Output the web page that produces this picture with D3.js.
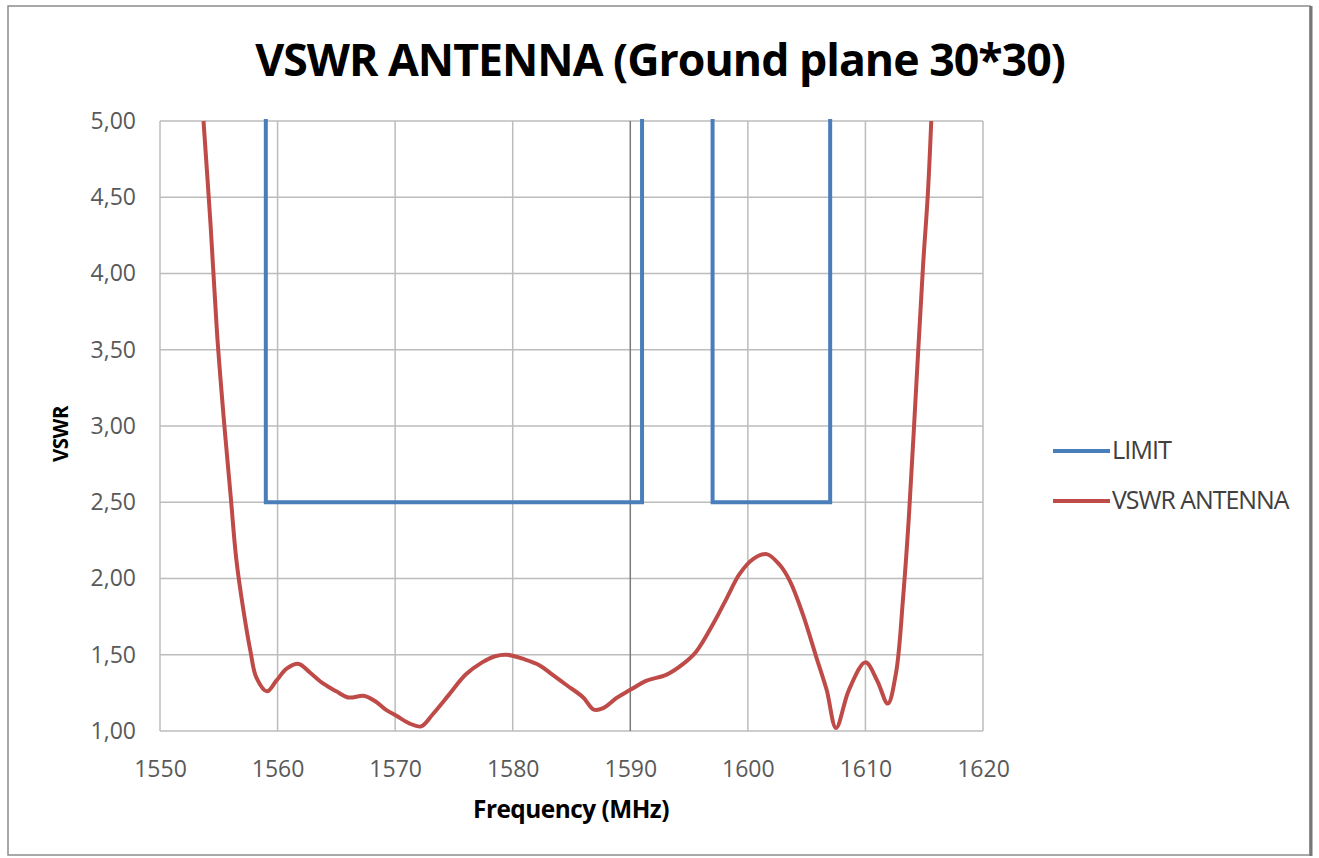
<!DOCTYPE html>
<html><head><meta charset="utf-8">
<script src="https://cdn.jsdelivr.net/npm/d3@7"></script>
<style>body{margin:0;background:#fff;} svg{display:block;}</style>
</head><body>
<svg id="c" width="1319" height="858"></svg>
<script>
const xTicks = [1550,1560,1570,1580,1590,1600,1610,1620];
const yTicks = [1.0,1.5,2.0,2.5,3.0,3.5,4.0,4.5,5.0];
const limitFreq = [1559,1559,1591,1591,1597,1597,1607,1607];
const limitVal  = [9,2.5,2.5,9,9,2.5,2.5,9];
const vswrFreq = [1553.7,1554.3,1554.85,1555.4,1556.0,1556.5,1557.1,1557.7,1558.2,1559.1,1559.9,1560.8,1561.8,1562.8,1563.9,1565.0,1566.0,1567.4,1568.4,1569.2,1570.1,1571.2,1572.2,1573.2,1574.6,1576.0,1577.4,1578.5,1579.5,1581.0,1582.3,1583.2,1584.6,1586.0,1586.9,1587.7,1588.9,1590.0,1591.4,1593.1,1594.5,1595.6,1597.1,1598.2,1599.3,1600.5,1601.6,1602.7,1603.6,1604.7,1605.8,1606.7,1607.5,1608.6,1610.0,1611.0,1611.9,1612.6,1613.2,1613.7,1614.3,1614.9,1615.3,1615.6];
const vswrVal  = [5.0,4.32,3.61,3.07,2.55,2.12,1.79,1.52,1.35,1.26,1.33,1.41,1.44,1.38,1.31,1.26,1.22,1.23,1.19,1.14,1.10,1.05,1.03,1.11,1.24,1.37,1.45,1.49,1.50,1.47,1.43,1.38,1.30,1.22,1.14,1.15,1.22,1.27,1.33,1.37,1.44,1.52,1.71,1.87,2.03,2.13,2.16,2.09,1.98,1.76,1.49,1.27,1.02,1.27,1.45,1.33,1.18,1.38,1.87,2.41,3.23,4.05,4.51,5.0];
const seriesNames = ["LIMIT","VSWR ANTENNA"];
const seriesColors = ["#4a7ebb","#be4b48"];

const svg = d3.select("#c");
const m = {l:160, r:983, t:121, b:731};
const x = d3.scaleLinear().domain([1550,1620]).range([m.l,m.r]);
const y = d3.scaleLinear().domain([1,5]).range([m.b,m.t]);
const font = "'Open Sans', sans-serif";

function fit(sel, w){
  sel.each(function(){
    const cur = this.getComputedTextLength();
    const fs = parseFloat(d3.select(this).attr("font-size"));
    d3.select(this).attr("font-size", fs*w/cur);
  });
}

// outer frame
svg.append("rect").attr("x",8).attr("y",6).attr("width",1302).attr("height",849)
  .attr("fill","#fff").attr("stroke","#8c8c8c").attr("stroke-width",1.5);
svg.append("line").attr("x1",1311).attr("x2",1311).attr("y1",6).attr("y2",856).attr("stroke","#777").attr("stroke-width",3);

// grid
const g = svg.append("g");
g.selectAll(".hg").data(yTicks).join("line")
  .attr("x1",m.l).attr("x2",m.r).attr("y1",d=>y(d)).attr("y2",d=>y(d))
  .attr("stroke","#bcbcbc").attr("stroke-width",1.5);
g.selectAll(".vg").data(xTicks).join("line")
  .attr("y1",m.t).attr("y2",m.b).attr("x1",d=>x(d)).attr("x2",d=>x(d))
  .attr("stroke",d=>d===1590?"#7a7a7a":"#bcbcbc").attr("stroke-width",1.5);

// axes labels via d3 axes
const xa = svg.append("g").attr("transform",`translate(0,${m.b})`)
  .call(d3.axisBottom(x).tickValues(xTicks).tickSize(0).tickPadding(30).tickFormat(d3.format("d")));
xa.select(".domain").remove();
xa.selectAll("text").attr("font-family",font).attr("font-size",23).attr("fill","#595959");
const ya = svg.append("g").attr("transform",`translate(${m.l},0)`)
  .call(d3.axisLeft(y).tickValues(yTicks).tickSize(0).tickPadding(24).tickFormat(d=>d3.format(".2f")(d).replace(".",",")));
ya.select(".domain").remove();
ya.selectAll("text").attr("font-family",font).attr("font-size",23).attr("fill","#595959");

// clip
svg.append("clipPath").attr("id","cp").append("rect").attr("x",m.l).attr("y",m.t-2).attr("width",m.r-m.l).attr("height",m.b-m.t+4);
const plot = svg.append("g").attr("clip-path","url(#cp)");

const limitData = limitFreq.map((f,i)=>[f,limitVal[i]]);
plot.append("path").datum(limitData)
  .attr("d",d3.line().x(d=>x(d[0])).y(d=>y(d[1])))
  .attr("fill","none").attr("stroke",seriesColors[0]).attr("stroke-width",4);

const vswrData = vswrFreq.map((f,i)=>[f,vswrVal[i]]);
plot.append("path").datum(vswrData)
  .attr("d",d3.line().x(d=>x(d[0])).y(d=>y(d[1])).curve(d3.curveCatmullRom.alpha(0.5)))
  .attr("fill","none").attr("stroke",seriesColors[1]).attr("stroke-width",4).attr("stroke-linejoin","round");

// title
svg.append("text").attr("x",660).attr("y",76).attr("text-anchor","middle")
  .attr("font-family",font).attr("font-weight","bold").attr("font-size",38).attr("fill","#000")
  .attr("letter-spacing",-1)
  .text("VSWR ANTENNA (Ground plane 30*30)").call(fit,804);
svg.append("text").attr("x",571).attr("y",818).attr("text-anchor","middle")
  .attr("font-family",font).attr("font-weight","bold").attr("font-size",19).attr("fill","#000")
  .attr("letter-spacing",-0.5)
  .text("Frequency (MHz)").call(fit,194);
svg.append("text").attr("transform","translate(68,434) rotate(-90)").attr("text-anchor","middle")
  .attr("font-family",font).attr("font-weight","bold").attr("font-size",19).attr("fill","#000")
  .attr("letter-spacing",-0.5)
  .text("VSWR").call(fit,56);

// legend
const lg = svg.append("g");
const legW = [57,172];
seriesNames.forEach((n,i)=>{
  const yy = 451 + i*50;
  lg.append("line").attr("x1",1053).attr("x2",1110).attr("y1",yy).attr("y2",yy)
    .attr("stroke",seriesColors[i]).attr("stroke-width",4);
  lg.append("text").attr("x",1112).attr("y",yy+8).attr("font-family",font).attr("font-size",18)
    .attr("fill","#404040").attr("letter-spacing",-1).text(n).call(fit,legW[i]);
});
</script>
</body></html>
